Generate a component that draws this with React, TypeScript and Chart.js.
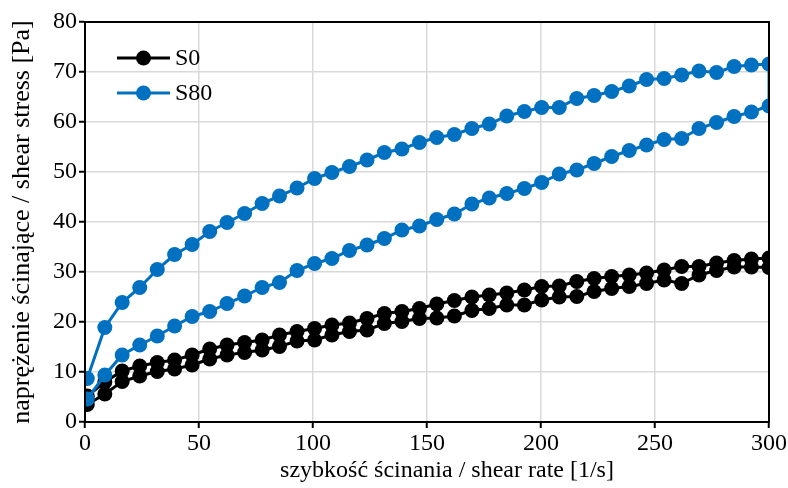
import React, { useEffect, useRef } from "react";
import { Chart, registerables } from "chart.js";

Chart.register(...registerables);

// shear rate grid [1/s]
const shearRate = [1, 8.7, 16.3, 24, 31.7, 39.3, 47, 54.7, 62.3, 70, 77.7, 85.3, 93, 100.7, 108.3, 116, 123.7, 131.3, 139, 146.7, 154.3, 162, 169.7, 177.3, 185, 192.7, 200.3, 208, 215.7, 223.3, 231, 238.7, 246.3, 254, 261.7, 269.3, 277, 284.7, 292.3, 300];

// S0 – two branches of the loop
const s0Upper = [5.2, 8.0, 10.2, 11.2, 11.9, 12.4, 13.4, 14.6, 15.4, 15.9, 16.4, 17.4, 18.1, 18.7, 19.4, 19.8, 20.7, 21.7, 22.1, 22.7, 23.6, 24.3, 25.0, 25.4, 25.8, 26.4, 27.1, 27.2, 28.1, 28.7, 29.1, 29.4, 29.8, 30.4, 31.1, 31.1, 31.8, 32.3, 32.6, 32.8];
const s0Lower = [3.5, 5.6, 8.1, 9.2, 10.1, 10.6, 11.4, 12.6, 13.4, 13.9, 14.4, 15.1, 16.2, 16.4, 17.4, 18.1, 18.4, 19.7, 20.1, 20.7, 20.8, 21.2, 22.3, 22.7, 23.4, 23.4, 24.4, 25.0, 25.1, 26.1, 26.7, 27.1, 27.7, 28.4, 27.7, 29.4, 30.3, 31.0, 31.0, 30.9];

// S80 – two branches of the loop
const s80Upper = [8.7, 18.9, 23.9, 26.9, 30.5, 33.5, 35.5, 38.1, 39.9, 41.7, 43.7, 45.2, 46.8, 48.7, 49.9, 51.1, 52.4, 53.9, 54.6, 55.9, 56.9, 57.5, 58.7, 59.6, 61.2, 62.1, 62.9, 62.9, 64.7, 65.3, 66.1, 67.2, 68.5, 68.7, 69.4, 70.2, 69.9, 71.1, 71.4, 71.6];
const s80Lower = [4.6, 9.4, 13.4, 15.4, 17.2, 19.2, 21.1, 22.1, 23.7, 25.2, 26.9, 27.9, 30.3, 31.7, 32.7, 34.3, 35.4, 36.7, 38.4, 39.2, 40.5, 41.6, 43.6, 44.8, 45.7, 46.7, 47.9, 49.6, 50.4, 51.7, 53.1, 54.3, 55.4, 56.5, 56.7, 58.7, 59.9, 61.1, 62.0, 63.2];

const seriesNames = ["S0", "S80"];
const seriesColors = ["#000000", "#0070C0"];

const xTitle = "szybkość ścinania / shear rate [1/s]";
const yTitle = "naprężenie ścinające / shear stress [Pa]";

function loop(upper: number[], lower: number[]) {
  const pts: { x: number; y: number }[] = [];
  for (let i = 0; i < shearRate.length; i++) pts.push({ x: shearRate[i], y: upper[i] });
  for (let i = shearRate.length - 1; i >= 0; i--) pts.push({ x: shearRate[i], y: lower[i] });
  return pts;
}

const FONT = "'Liberation Serif', 'Times New Roman', serif";

const frameAndLegend = {
  id: "frameAndLegend",
  afterDraw(chart: any) {
    const { ctx, chartArea } = chart;
    ctx.save();
    ctx.strokeStyle = "#000";
    ctx.lineWidth = 2;
    ctx.strokeRect(chartArea.left, chartArea.top, chartArea.right - chartArea.left, chartArea.bottom - chartArea.top);
    // legend
    const x0 = chartArea.left + 32;
    const lineLen = 53;
    const rows = [chartArea.top + 36, chartArea.top + 71];
    for (let i = 0; i < seriesNames.length; i++) {
      const y = rows[i];
      ctx.strokeStyle = seriesColors[i];
      ctx.fillStyle = seriesColors[i];
      ctx.lineWidth = 3;
      ctx.beginPath();
      ctx.moveTo(x0, y);
      ctx.lineTo(x0 + lineLen, y);
      ctx.stroke();
      ctx.beginPath();
      ctx.arc(x0 + lineLen / 2, y, 7.5, 0, Math.PI * 2);
      ctx.fill();
      ctx.fillStyle = "#000";
      ctx.font = `24px ${FONT}`;
      ctx.textBaseline = "middle";
      ctx.textAlign = "left";
      ctx.fillText(seriesNames[i], x0 + lineLen + 5, y + 1);
    }
    // x-axis title (offset to the right as in the reference)
    ctx.fillStyle = "#000";
    ctx.font = `24px ${FONT}`;
    ctx.textAlign = "center";
    ctx.textBaseline = "middle";
    ctx.fillText(xTitle, (chartArea.left + chartArea.right) / 2 + 20, chartArea.bottom + 49);
    ctx.restore();
  },
};

export default function App() {
  const canvasRef = useRef<HTMLCanvasElement | null>(null);

  useEffect(() => {
    document.body.style.margin = "0";
    const canvas = canvasRef.current;
    if (!canvas) return;
    const chart = new Chart(canvas, {
      type: "scatter",
      data: {
        datasets: [
          {
            label: seriesNames[0],
            data: loop(s0Upper, s0Lower),
            showLine: true,
            borderColor: seriesColors[0],
            backgroundColor: seriesColors[0],
            borderWidth: 3,
            pointRadius: 7.5,
            pointHoverRadius: 7.5,
            pointBorderWidth: 0,
            tension: 0,
            order: 1,
          },
          {
            label: seriesNames[1],
            data: loop(s80Upper, s80Lower),
            showLine: true,
            borderColor: seriesColors[1],
            backgroundColor: seriesColors[1],
            borderWidth: 3,
            pointRadius: 7.5,
            pointHoverRadius: 7.5,
            pointBorderWidth: 0,
            tension: 0,
            order: 0,
          },
        ],
      },
      options: {
        animation: false,
        responsive: false,
        maintainAspectRatio: false,
        layout: { padding: { top: 22, right: 19, left: 0, bottom: 0 } },
        plugins: { legend: { display: false }, tooltip: { enabled: false } },
        scales: {
          x: {
            type: "linear",
            min: 0,
            max: 300,
            ticks: { stepSize: 50, color: "#000", font: { family: FONT, size: 24 }, padding: 1 },
            grid: { color: "#d9d9d9", lineWidth: 1.5, tickColor: "#000", tickLength: 6, tickWidth: 2 },
            border: { color: "#000", width: 2 },
            title: { display: false, text: xTitle },
            afterFit(scale: any) {
              scale.height = 66;
            },
          },
          y: {
            type: "linear",
            min: 0,
            max: 80,
            ticks: { stepSize: 10, color: "#000", font: { family: FONT, size: 24 }, padding: 2 },
            grid: { color: "#d9d9d9", lineWidth: 1.5, tickColor: "#000", tickLength: 6, tickWidth: 2 },
            border: { color: "#000", width: 2 },
            title: { display: true, text: yTitle, color: "#000", font: { family: FONT, size: 26 }, padding: { top: 7, bottom: 0 } },
            afterFit(scale: any) {
              scale.width = 85;
            },
          },
        },
      },
      plugins: [frameAndLegend],
    });
    return () => chart.destroy();
  }, []);

  return (
    <div style={{ width: 788, height: 488, background: "#fff" }}>
      <canvas ref={canvasRef} width={788} height={488} style={{ display: "block", width: 788, height: 488 }} />
    </div>
  );
}
